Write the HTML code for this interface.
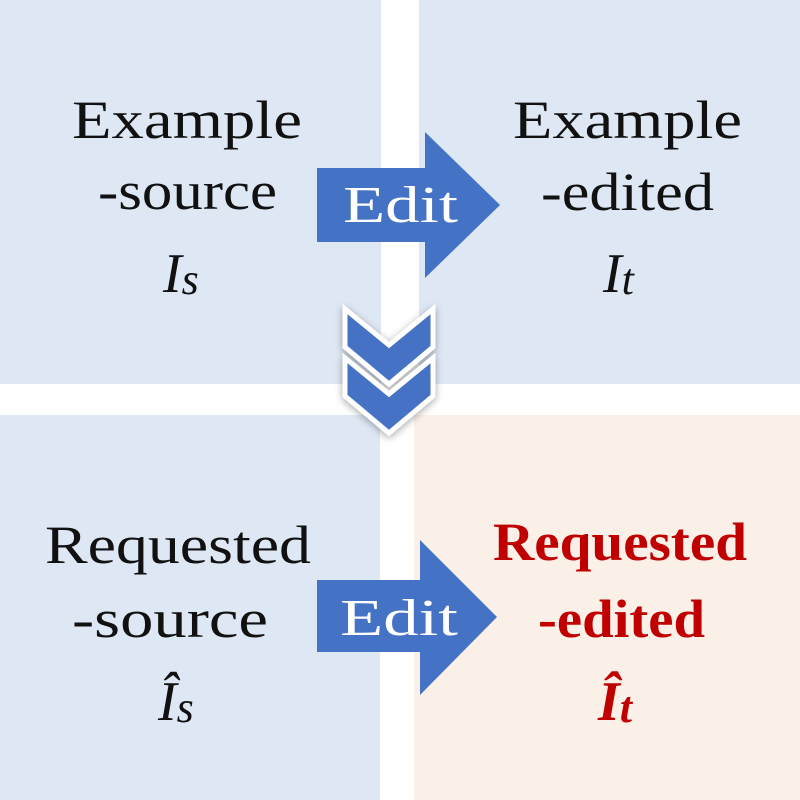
<!DOCTYPE html>
<html><head><meta charset="utf-8"><style>html,body{margin:0;padding:0;background:#fff}svg{display:block}</style></head>
<body>
<svg width="800" height="800" viewBox="0 0 800 800" xmlns="http://www.w3.org/2000/svg" font-family="Liberation Serif, serif">
<defs>
<filter id="sh" x="-30%" y="-30%" width="160%" height="160%"><feGaussianBlur in="SourceAlpha" stdDeviation="4"/><feOffset dx="0" dy="2"/><feComponentTransfer><feFuncA type="linear" slope="0.35"/></feComponentTransfer><feMerge><feMergeNode/><feMergeNode in="SourceGraphic"/></feMerge></filter>
</defs>
<rect width="800" height="800" fill="#fff"/>
<rect x="0" y="0" width="381" height="384" fill="#dee8f4"/>
<rect x="419" y="0" width="381" height="384" fill="#dee8f4"/>
<rect x="0" y="415" width="380" height="385" fill="#dee8f4"/>
<rect x="414" y="415" width="386" height="385" fill="#fbf0e7"/>

<polygon points="317,168 425,168 425,132 500,205 425,278 425,242 317,242" fill="#4472c4"/>
<text x="343" y="222" font-size="52" fill="#fff" textLength="115" lengthAdjust="spacingAndGlyphs">Edit</text>
<polygon points="317,580 420,580 420,540 497,617 420,695 420,652 317,652" fill="#4472c4"/>
<text x="340" y="635" font-size="52" fill="#fff" textLength="118" lengthAdjust="spacingAndGlyphs">Edit</text>

<g filter="url(#sh)" stroke="#fff" stroke-width="5" stroke-linejoin="miter" fill="#4472c4">
<polygon points="345,358 345,396 389,433 433,396 433,358 389,394"/>
<polygon points="345,309 345,347 389,384 433,347 433,309 389,345"/>
</g>

<text x="72" y="138" font-size="54" fill="#111" textLength="230" lengthAdjust="spacingAndGlyphs">Example</text>
<text x="98" y="209" font-size="54" fill="#111" textLength="179" lengthAdjust="spacingAndGlyphs">-source</text>
<text x="163" y="292" font-size="56" font-style="italic" fill="#111">I<tspan font-size="44" dy="2">s</tspan></text>
<text x="513" y="138" font-size="54" fill="#111" textLength="229" lengthAdjust="spacingAndGlyphs">Example</text>
<text x="541" y="210" font-size="54" fill="#111" textLength="173" lengthAdjust="spacingAndGlyphs">-edited</text>
<text x="603" y="292" font-size="56" font-style="italic" fill="#111">I<tspan font-size="44" dy="2">t</tspan></text>
<text x="45" y="563" font-size="54" fill="#111" textLength="266" lengthAdjust="spacingAndGlyphs">Requested</text>
<text x="72" y="637" font-size="54" fill="#111" textLength="196" lengthAdjust="spacingAndGlyphs">-source</text>
<text x="158" y="720" font-size="56" font-style="italic" fill="#111">Î<tspan font-size="44" dy="2">s</tspan></text>
<text x="493" y="560" font-size="54" font-weight="bold" fill="#c00000" textLength="254" lengthAdjust="spacingAndGlyphs">Requested</text>
<text x="538" y="637" font-size="54" font-weight="bold" fill="#c00000" textLength="167" lengthAdjust="spacingAndGlyphs">-edited</text>
<text x="598" y="720" font-size="56" font-weight="bold" font-style="italic" fill="#c00000">Î<tspan font-size="44" dy="2">t</tspan></text>
</svg>
</body></html>
